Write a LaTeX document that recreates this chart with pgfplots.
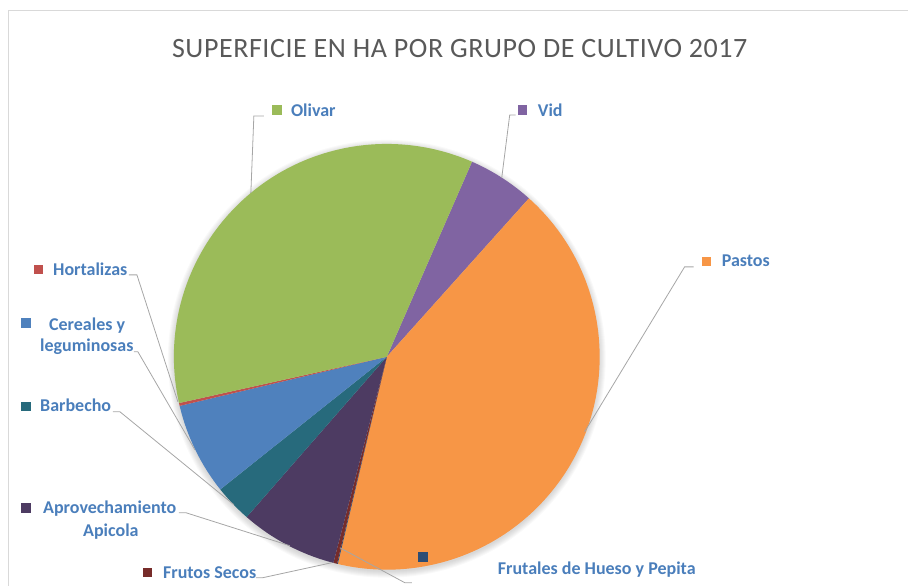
\documentclass[border=0pt]{standalone}
\usepackage{pgfplots}
\pgfplotsset{compat=1.18}
\usepackage{pgfplotstable}
\usepackage{fontspec}
\setmainfont{Carlito}
\newfontfamily\titlefont[LetterSpace=2]{Carlito}
\definecolor{olivar}{HTML}{9BBB59}
\definecolor{vid}{HTML}{8064A2}
\definecolor{pastos}{HTML}{F79646}
\definecolor{frutales}{HTML}{2C4D75}
\definecolor{frutos}{HTML}{772C2A}
\definecolor{apicola}{HTML}{4D3B62}
\definecolor{barbecho}{HTML}{276A7C}
\definecolor{cereales}{HTML}{4F81BD}
\definecolor{hortalizas}{HTML}{C0504D}
\definecolor{labblue}{HTML}{4A7EBB}
\definecolor{leader}{HTML}{A6A6A6}
\definecolor{titlegray}{HTML}{595959}
\definecolor{frame}{HTML}{D9D9D9}

% share of each crop group (percent of total area), clockwise from the Olivar/Vid edge
\pgfplotstableread{
cultivo value color
Vid 5.08 vid
Pastos 42.06 pastos
Frutales 0.06 frutales
FrutosSecos 0.28 frutos
Aprovechamiento 7.40 apicola
Barbecho 2.86 barbecho
Cereales 7.00 cereales
Hortalizas 0.22 hortalizas
Olivar 35.04 olivar
}\datatable

\tikzset{lab/.style={text=labblue,font=\bfseries\fontsize{18}{21}\selectfont,inner sep=0pt,anchor=base west},
  ld/.style={draw=leader,line width=0.8pt},
  mk/.style={inner sep=0pt,minimum size=9.5pt}}

\begin{document}
\begin{tikzpicture}
\begin{axis}[
  width=908pt,height=586pt,scale only axis,
  xmin=0,xmax=908,ymin=0,ymax=586,y dir=reverse,
  hide axis,clip=false]
% full canvas
\path (axis cs:0,0) rectangle (axis cs:908,586);
% frame
\draw[frame,line width=1pt] (axis cs:8.5,586) -- (axis cs:8.5,11) -- (axis cs:908,11);
% title
\node[anchor=base,text=titlegray,font=\titlefont\fontsize{28}{33}\selectfont,inner sep=0pt] at (axis cs:460,58) {SUPERFICIE EN HA POR GRUPO DE CULTIVO 2017};
% soft shadow
\pgfplotsforeachungrouped \k in {1,...,7}{
  \edef\temp{\noexpand\fill[black,opacity=0.022] (axis cs:387,359) circle[radius=\the\numexpr 212+\k\relax pt];}
  \temp
}
% pie wedges
\gdef\startang{66.4}
\pgfplotsforeachungrouped \i in {0,...,8}{
  \pgfplotstablegetelem{\i}{value}\of\datatable
  \pgfmathsetmacro\sweep{\pgfplotsretval*3.6}
  \pgfmathsetmacro\endang{\startang-\sweep}
  \pgfplotstablegetelem{\i}{color}\of\datatable
  \let\col\pgfplotsretval
  \edef\temp{\noexpand\fill[fill=\col] (axis cs:387,357) -- ++(\startang:213pt) arc[start angle=\startang,end angle=\endang,radius=213pt] -- cycle;}
  \temp
  \global\let\startang\endang
}
% leader lines
\draw[ld] (axis cs:264,116) -- (axis cs:254,116) -- (axis cs:251,193);
\draw[ld] (axis cs:516,115) -- (axis cs:510,115) -- (axis cs:502,178);
\draw[ld] (axis cs:694,267) -- (axis cs:685,267) -- (axis cs:585,432);
\draw[ld] (axis cs:129,275) -- (axis cs:137,275) -- (axis cs:178,402);
\draw[ld] (axis cs:134,352) -- (axis cs:138,352) -- (axis cs:195,450);
\draw[ld] (axis cs:113,412) -- (axis cs:120,412) -- (axis cs:234,505);
\draw[ld] (axis cs:179,513) -- (axis cs:186,513) -- (axis cs:290,546);
\draw[ld] (axis cs:256,578) -- (axis cs:263,578) -- (axis cs:332,563);
\draw[ld] (axis cs:340,548) -- (axis cs:405,583) -- (axis cs:412,583);
% markers
\node[mk,fill=olivar] at (axis cs:277,110) {};
\node[mk,fill=vid] at (axis cs:523,110) {};
\node[mk,fill=pastos] at (axis cs:707,261.5) {};
\node[mk,fill=hortalizas] at (axis cs:38.5,269.5) {};
\node[mk,fill=cereales] at (axis cs:26,323) {};
\node[mk,fill=barbecho] at (axis cs:26,406.5) {};
\node[mk,fill=apicola] at (axis cs:26,508.5) {};
\node[mk,fill=frutos] at (axis cs:147.5,573) {};
\node[mk,fill=frutales] at (axis cs:423,557.5) {};
% labels
\node[lab] at (axis cs:291,117) {Olivar};
\node[lab] at (axis cs:538,117) {Vid};
\node[lab] at (axis cs:722,267) {Pastos};
\node[lab] at (axis cs:53,276) {Hortalizas};
\node[lab] at (axis cs:49,331) {Cereales y};
\node[lab] at (axis cs:40,352) {leguminosas};
\node[lab] at (axis cs:40,412) {Barbecho};
\node[lab] at (axis cs:43,514) {Aprovechamiento};
\node[lab] at (axis cs:83,537) {Apicola};
\node[lab] at (axis cs:163,579) {Frutos Secos};
\node[lab] at (axis cs:498,575) {Frutales de Hueso y Pepita};
\end{axis}
\end{tikzpicture}
\end{document}
